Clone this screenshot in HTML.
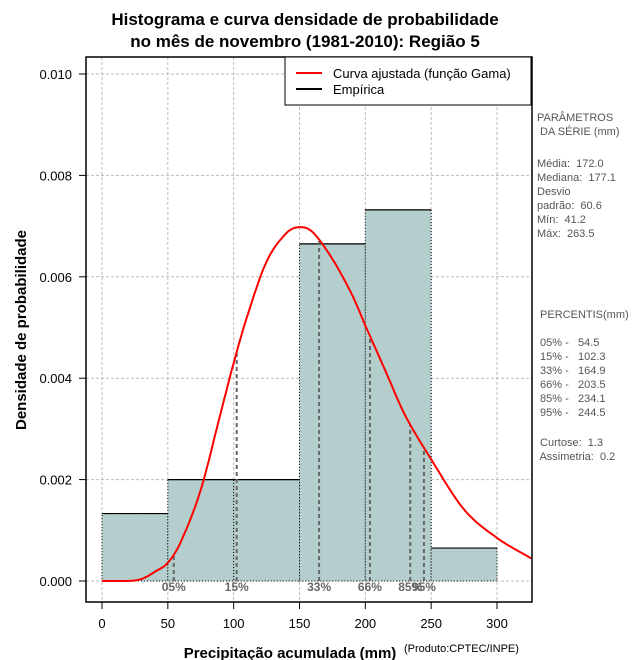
<!DOCTYPE html>
<html><head><meta charset="utf-8"><style>
body{margin:0;background:#fff;}
svg{display:block;font-family:"Liberation Sans",sans-serif;}
#side text{white-space:pre;}
</style></head><body>
<svg id="chart" width="640" height="660" viewBox="0 0 640 660">
<text x="305" y="25" text-anchor="middle" font-size="17" font-weight="bold">Histograma e curva densidade de probabilidade</text>
<text x="305" y="47" text-anchor="middle" font-size="17" font-weight="bold">no mês de novembro (1981-2010): Região 5</text>
<g id="grid"></g>
<g id="bars"></g>
<g id="pct"></g>
<path id="curve" fill="none" stroke="#ff0000" stroke-width="2"/>
<rect x="86" y="57" width="446" height="545" fill="none" stroke="#000" stroke-width="1.5"/>
<g id="axes"></g>
<text transform="translate(26,330) rotate(-90)" text-anchor="middle" font-size="15" font-weight="bold">Densidade de probabilidade</text>
<text x="290" y="658" text-anchor="middle" font-size="15" font-weight="bold">Precipitação acumulada (mm)</text>
<text x="404" y="652" font-size="11">(Produto:CPTEC/INPE)</text>
<g>
<rect x="285" y="57" width="246" height="48" fill="#fff" stroke="#000" stroke-width="1"/>
<line x1="296" y1="73" x2="322" y2="73" stroke="#ff0000" stroke-width="2"/>
<text x="333" y="78" font-size="13">Curva ajustada (função Gama)</text>
<line x1="296" y1="89" x2="322" y2="89" stroke="#000" stroke-width="2"/>
<text x="333" y="94" font-size="13">Empírica</text>
</g>
<g id="side" font-size="11" fill="#555"></g>
</svg>
<script>
const binEdges=[0,50,100,150,200,250,300];
const binDensity=[0.00133,0.002,0.002,0.00665,0.00732,0.00065];
const curveX=[0,15,25,32,40,50,60,75,90,100,110,125,140,150,160,175,190,200,215,230,250,275,300,325];
const curveY=[0,0,0.00001,0.00006,0.00018,0.00036,0.00078,0.0018,0.0033,0.0043,0.0052,0.0063,0.00686,0.00698,0.00688,0.00635,0.00564,0.00504,0.00416,0.00328,0.0024,0.00141,0.00085,0.00046];
const pctLabels=["05%","15%","33%","66%","85%","95%"];
const pctValues=[54.5,102.3,164.9,203.5,234.1,244.5];
const xTicks=[0,50,100,150,200,250,300];
const yTicks=[0,0.002,0.004,0.006,0.008,0.010];
const sideLines=[["PARÂMETROS",121],[" DA SÉRIE (mm)",135],["Média:  172.0",167],["Mediana:  177.1",181],["Desvio",195],["padrão:  60.6",209],["Mín:  41.2",223],["Máx:  263.5",237],[" PERCENTIS(mm)",318],[" 05% -   54.5",346],[" 15% -   102.3",360],[" 33% -   164.9",374],[" 66% -   203.5",388],[" 85% -   234.1",402],[" 95% -   244.5",416],[" Curtose:  1.3",446],[" Assimetria:  0.2",460]];

const NS="http://www.w3.org/2000/svg";
const X0=86,X1=532,Y0=57,Y1=602;
const sx=v=>102+v*(395/300);
const sy=v=>581-v*50700;
function mk(tag,attrs,parent){const e=document.createElementNS(NS,tag);for(const k in attrs)e.setAttribute(k,attrs[k]);parent.appendChild(e);return e;}
const grid=document.getElementById('grid'),bars=document.getElementById('bars'),pct=document.getElementById('pct'),axes=document.getElementById('axes'),side=document.getElementById('side');
xTicks.forEach(t=>{
 const g=mk('line',{x1:sx(t),x2:sx(t),y1:Y0,y2:Y1,stroke:'#bbb','stroke-dasharray':'3,2'},grid);
 
 
 const tk=mk('line',{x1:sx(t),x2:sx(t),y1:Y1,y2:Y1+7,stroke:'#000'},axes);
 
 
 const l=mk('text',{x:sx(t),y:628,'text-anchor':'middle','font-size':13},axes);l.textContent=t;
 
 
});
yTicks.forEach(t=>{
 const g=mk('line',{x1:X0,x2:X1,y1:sy(t),y2:sy(t),stroke:'#bbb','stroke-dasharray':'3,2'},grid);
 
 
 const tk=mk('line',{x1:X0-7,x2:X0,y1:sy(t),y2:sy(t),stroke:'#000'},axes);
 
 
 const l=mk('text',{x:72,y:sy(t)+5,'text-anchor':'end','font-size':13},axes);l.textContent=t.toFixed(3);
 
 
});
binDensity.forEach((d,i)=>{
 const x=sx(binEdges[i]),w=sx(binEdges[i+1])-x,y=sy(d);
 const r=mk('rect',{x:x,y:y,width:w,height:sy(0)-y,fill:'#b4cece',stroke:'#000','stroke-dasharray':'1,2','stroke-width':1},bars);
 
 
 const t=mk('line',{x1:x,x2:x+w,y1:y,y2:y,stroke:'#000','stroke-width':1.2},bars);
 
 
});
function cr(v){
 const n=curveX.length;let i=1;while(i<n-1&&v>curveX[i])i++;
 const i0=Math.max(i-2,0),i1=i-1,i2=i,i3=Math.min(i+1,n-1);
 const t=(v-curveX[i1])/(curveX[i2]-curveX[i1]);
 const p0=curveY[i0],p1=curveY[i1],p2=curveY[i2],p3=curveY[i3];
 const h=curveX[i2]-curveX[i1];
 const m1=(p2-p0)/(curveX[i2]-curveX[i0])*h,m2=(p3-p1)/(curveX[i3]-curveX[i1])*h;
 const t2=t*t,t3=t2*t;
 return Math.max(0,(2*t3-3*t2+1)*p1+(t3-2*t2+t)*m1+(-2*t3+3*t2)*p2+(t3-t2)*m2);
}
pctValues.forEach((v,i)=>{
 const ln=mk('line',{x1:sx(v),x2:sx(v),y1:sy(0),y2:sy(cr(v)),stroke:'#666','stroke-width':2,'stroke-dasharray':'4,3'},pct);
 
 
 const t=mk('text',{x:sx(v),y:591,'text-anchor':'middle','font-size':12,'font-weight':'bold',fill:'#666'},pct);t.textContent=pctLabels[i];
 
 
});
let d='';const xmax=(X1-102)*300/395;
for(let v=curveX[0],k=0;v<=xmax;v+=1,k++){d+=(k?'L':'M')+sx(v).toFixed(1)+','+sy(cr(v)).toFixed(1);}
document.getElementById('curve').setAttribute('d',d);
sideLines.forEach(s=>{const t=mk('text',{x:537,y:s[1]},side);t.textContent=s[0];
 
 
});
</script>
</body></html>
